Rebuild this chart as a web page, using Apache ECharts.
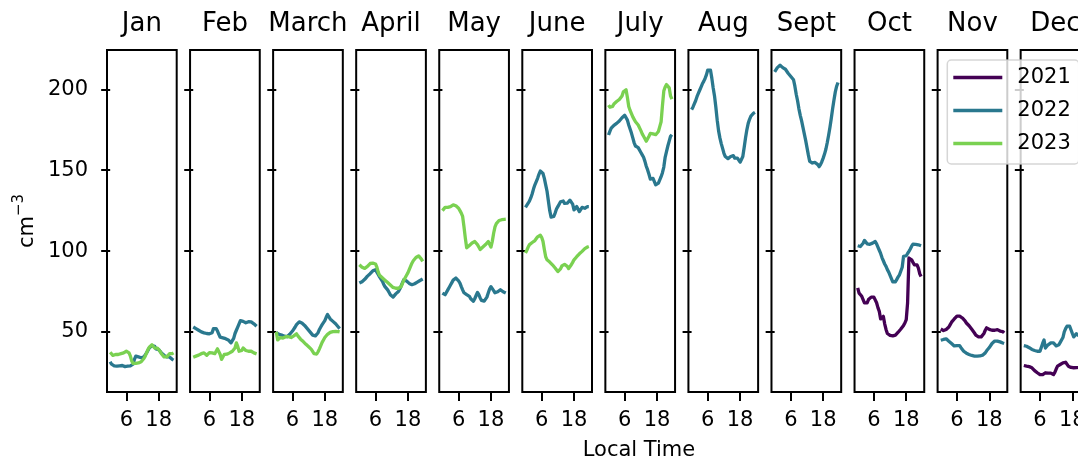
<!DOCTYPE html>
<html>
<head>
<meta charset="utf-8">
<script src="https://cdn.jsdelivr.net/npm/echarts@6.0.0/dist/echarts.min.js"></script>
<style>
  html, body { margin: 0; padding: 0; background: #fff; overflow: hidden; width: 1078px; height: 460px; }
  #chart { width: 1120px; height: 460px; }
</style>
</head>
<body>
<div id="chart"></div>
<script>
// Mean diurnal cycle of number concentration, one panel per month
const months = ['Jan', 'Feb', 'March', 'April', 'May', 'June', 'July', 'Aug', 'Sept', 'Oct', 'Nov', 'Dec'];
const years = ['2021', '2022', '2023'];
const yearColors = ['#440154', '#2a788e', '#7ad151'];
const xTicks = [6, 18];
const yTicks = [50, 100, 150, 200];

// Half-hourly local time
const hours = [0, 0.5, 1, 1.5, 2, 2.5, 3, 3.5, 4, 4.5, 5, 5.5, 6, 6.5, 7, 7.5, 8, 8.5, 9, 9.5,
  10, 10.5, 11, 11.5, 12, 12.5, 13, 13.5, 14, 14.5, 15, 15.5, 16, 16.5, 17, 17.5, 18, 18.5, 19, 19.5,
  20, 20.5, 21, 21.5, 22, 22.5, 23, 23.5];

const jan2022 = [31.5,30,29,29,29,28.8,29,29,29,29.2, 29,28.5,28.5,28.8,29,29,29.5,30,33,35, 34,34.5,34.3,34,35,34.5,35.5,37,38.5,40, 41,41.5,42,41,39.5,40,39,38,37,36, 35.5,35,34.5,34,34.5,33.5,33,32.5];
const jan2023 = [37.4,36.5,35.5,36,36,36.2,36,36.5,36.5,36.3, 37,37.5,38,38,37,35,32,30.5,30.5,30.5, 31,30.8,31,31.5,32,33.5,35,37,39,40.5, 41.5,42,41.5,40,39,40,39,38,36.5,35.5, 34.5,34,34.5,35.5,36.5,37,36.5,37];
const feb2022 = [53,52.5,52,51.5,51,50.5,50,49.5,49.4,49.5, 49,49.2,48.8,48.3,49.5,52,52.8,52,50.5,48.5, 46.7,46.5,46.3,46,45.8,45.5,45,44,43.2,43.5, 46,49,51,53,55,57,57.6,56.5,55.8,55.6, 56,56.3,56,56.2,55.8,55,54.5,53.5];
const feb2023 = [34.3,34.5,35,35.3,35.6,36,36.5,36.8,37,36, 35.5,36.5,37.2,37.7,37,36,36.5,38,39.5,40, 36,33,34,36,36.5,36.2,36.8,37,37.5,38, 38.5,40,43.2,41,38,37,38.5,40,39.5,38.5, 38,38,38.5,38,37.5,37,36.5,36.4];
const mar2022 = [49.5,49,48.5,48,48,47.5,47.3,47.5,47,47.5, 48.5,49.5,50.5,51.5,53,54.5,55.5,56.2,56,55.5, 55,54,53,52,51,50,49,48,47.3,47.5, 48.5,49.5,51.5,53,54.5,55,57,59,60.7,59.5, 58,57.5,56.5,55.5,55,54,53,52];
const mar2023 = [50,45,45.5,46.5,46.7,46.2,46.5,47,47.3,47, 46.7,46.5,47,47.5,48.3,48.8,47.5,46.5,45.5,44.8, 44,43.2,42.3,41.5,40.8,40,39.2,38,36.5,36, 36.3,37.7,39.5,41.5,43.5,45,46.5,47.5,48.5,49.2, 49.7,50,50.2,50.4,50.3,50.4,50.2,50];
const apr2022 = [80.2,80.3,81,82,82.5,83.5,84.5,85.4,86,87, 87.8,88.3,88.5,87,85.5,84,83,81.5,79.5,78, 77,76,74.5,73,72,71.5,72.5,73.5,74.2,75, 76.5,78.5,80.5,82.3,82,81.5,80.5,80,79.5,79.2, 79.3,79.8,80.3,80.8,81.3,81.8,82.3,82.7];
const apr2023 = [91.5,91,90,89.5,89.3,89.5,90.5,91.5,92.3,92.6, 92.5,92.3,92,90,87,85,84.3,83.5,83,82, 81.3,80.5,79.8,79,78.3,77.5,77.2,77,77.2,77, 77.2,78,80,82,83.5,85,86.5,88.5,90.5,92.5, 94,95,96,96.8,97,96.5,95,93.6];
const may2022 = [74,73.5,73,74,76,77.5,79,80.5,82,83, 83.3,83,81.5,80.2,78,76,74.2,73.5,73,72.5, 72,70.5,69.5,69,70.5,72.5,74.4,73,71,69.5, 69,69,69.5,71.5,74,76.5,78,77,75.5,74.2, 74,74.8,75.5,76.1,75.5,74.8,74.3,74];
const may2023 = [125,125.5,127,127.5,127,127.3,127.5,128,128.6,128.3, 128,127.5,126.5,125,123.5,121.4,115,108,102,102.5, 103.5,104.5,105,105.5,105.9,105.5,104,102.5,101,101.5, 102.5,103.5,104,105,105.9,105,102.5,106,111,115, 117,118,118.9,119.2,119.4,119.5,119.6,119.7];
const jun2022 = [127,128,129.6,131,133,135.5,138.5,141,143,145, 147.5,149.5,149.8,148,145,141,137,131,125,121, 120.5,121.4,123.5,126,127.5,129,130.5,131.7,131,129.5, 130,129.6,130.5,131.5,132.1,129,125.5,126,127.5,126.5, 124.4,125.5,127,127.2,126.5,127,127.5,127.5];
const jun2023 = [98.8,100.5,102.5,104,104.8,105.3,105.9,106.5,107.5,108.8, 110,109.8,108.5,106,101,96.5,94.6,94,93.2,92.5, 91.5,90.5,89.5,88.5,87.3,87.5,89,90.8,91.5,91.8, 91.5,90.5,89.2,89.5,91.5,93,94.6,95.5,96.5,97.5, 98.3,98.8,99.8,100.8,101.5,102,102.5,102.8];
const jul2022 = [171.8,174,176,177,177.8,178.5,179,179.5,180.5,181.5, 182.5,183.5,184,183,181,178,175.5,173,170,167, 165,164.3,164,163.5,161,159.5,158,155.5,152.5,150.2, 147.5,144.5,144,145,143,141,140.5,142,144,146, 148.5,152,158,161.5,165,168,171,172];
const jul2023 = [190.3,189,188.3,189.5,191,192,192.5,193.2,193.8,194.4, 196,198.5,199.6,199.8,195,189.5,187,185,183,181.5, 180,179,178,176.9,174.5,172.5,171,169.5,168,169.5, 171,172.8,173,172.5,172.8,172,171.8,174,177,180, 190,199,201.5,203,203.7,201,196,194];
const aug2022 = [187.5,189,191,193,195.5,197.5,199.5,201.5,203.5,205, 206.8,209,212,213,212,207,201,196,189,181, 174.5,170,166.5,163.5,160.5,158.5,157.5,157.2,157.4,158.5, 159.5,159,157.5,157.8,157.5,157,155,155.5,158.5,164, 170,175,179,181.5,183.5,184.5,185.3,185.8];
const sep2022 = [210.9,212,213.5,214.5,215,214,213.5,213,212.5,211.5, 210,209,208,207,206,202,197,193,188,184, 180.5,176.5,172.5,168.5,164,159.5,155.5,154.8,154.5,154.3, 154.8,155,153.5,152.2,153.5,155.3,157.5,160,163,167, 171.5,176.5,182,188,193.5,198.5,202,204.3];
const oct2021 = [77.2,74,73,72,70,68,66.9,68,70,71, 71.5,71.7,71.5,70.5,68,65,62.7,58,57.6,59.6, 55,51.5,49,48.3,47.8,47.7,47.5,47.8,48,49, 49.8,50.8,51.8,52.8,54,55.5,57.6,68,95.7,95, 94.6,93,91.5,92,91.5,89.5,86,84.3];
const oct2022 = [103.3,103,102.8,103.5,104.8,106.6,105.5,104.5,103.9,104.2, 104.5,104.9,105.3,105.9,104.5,102.5,100.5,98.5,96,94, 92,90.5,88.5,87,85,83,81,79.8,81,82.5, 84,85.3,86.5,90,96.7,96,97.1,98.5,99.8,101.3, 103,104.3,104.5,104.2,103.9,103.9,103.5,103.3];
const nov2021 = [51.8,51.2,50.8,51,51.5,52,53,54.5,56,57, 58,59,59.8,60.1,59.8,59.2,58.6,57.8,56.8,55.5, 54.8,53.8,52.7,51.6,50.5,49.3,48,47,46.9,46.8, 46.9,47.2,49,51,52.5,52.3,51.5,51,51,51.3, 51,51.2,51.4,50.8,50.5,50.8,50.2,49.4];
const nov2022 = [44.8,45,45.3,45.6,45.7,45,44.2,43.4,42.8,42, 41.3,40.8,41.5,42.2,41.5,40.2,39,38,37.5,36.8, 36.2,36,35.8,35.4,35.1,35,35,35,35,35.1, 35.3,35.6,36,37,38.3,39.5,40.3,41.5,42.8,43.8, 44.3,44.4,44.3,44.2,43.8,43.5,43.1,42.8];
const dec2021 = [29.2,29,28.8,28.9,28.5,28,27.8,27,26,25.2, 24.7,24.2,23.5,23,23.5,24.2,24.7,24.8,24.5,24.7, 24.5,24,23.6,25,27,28.8,29.3,29.8,30.4,30.8, 31,31.2,30,28.8,28.3,28,27.8,27.8,27.8,27.9, 27.8,28,28.3,28.5,28.8,29,29.2,29.3];
const dec2022 = [41.5,41.3,41.1,40.8,40.2,39.6,39.1,38.8,38.5,38.2, 38,38,38,38.2,43,45,40,40.2,42,43.2, 43.2,43,43.2,42.5,41.3,40.7,42,43.5,44.2,46.5, 50,52,53.5,53.9,53.5,52.5,49,46.9,48,48.9, 47.7,47.5,47.8,47.5,47.2,47,47.3,47];

// Which yearly curves exist in each month panel
const monthSeries = [
  { '2022': jan2022, '2023': jan2023 },
  { '2022': feb2022, '2023': feb2023 },
  { '2022': mar2022, '2023': mar2023 },
  { '2022': apr2022, '2023': apr2023 },
  { '2022': may2022, '2023': may2023 },
  { '2022': jun2022, '2023': jun2023 },
  { '2022': jul2022, '2023': jul2023 },
  { '2022': aug2022 },
  { '2022': sep2022 },
  { '2021': oct2021, '2022': oct2022 },
  { '2021': nov2021, '2022': nov2022 },
  { '2021': dec2021, '2022': dec2022 }
];

const FONT = 'DejaVu Sans';
const PANEL_LEFT = 107, PANEL_STEP = 83.06, PANEL_W = 69.7, PANEL_TOP = 50, PANEL_H = 342;
const X_MIN = -1.175, X_MAX = 24.675, Y_MIN = 12.8, Y_MAX = 224.4;

const grids = [], xAxes = [], yAxes = [], series = [], texts = [];

months.forEach((m, i) => {
  const left = PANEL_LEFT + PANEL_STEP * i;
  grids.push({
    left: left, top: PANEL_TOP, width: PANEL_W, height: PANEL_H,
    show: true, borderColor: '#000', borderWidth: 2, backgroundColor: 'transparent'
  });
  xAxes.push({
    type: 'value', gridIndex: i, min: X_MIN, max: X_MAX,
    axisLine: { show: false }, splitLine: { show: false },
    axisTick: { show: true, length: 9, lineStyle: { color: '#000', width: 2 }, customValues: xTicks },
    axisLabel: { customValues: xTicks, margin: 18, color: '#000', fontSize: 21, fontFamily: FONT }
  });
  yAxes.push({
    type: 'value', gridIndex: i, min: Y_MIN, max: Y_MAX,
    axisLine: { show: false }, splitLine: { show: false },
    axisTick: { show: true, length: 9, lineStyle: { color: '#000', width: 2 }, customValues: yTicks },
    axisLabel: { show: i === 0, customValues: yTicks, margin: 19, color: '#000', fontSize: 21, fontFamily: FONT }
  });
  texts.push({
    type: 'text', x: left + PANEL_W / 2, y: 24.7,
    style: { text: m, align: 'center', verticalAlign: 'middle', fontSize: 26, fontFamily: FONT, fill: '#000' }
  });
  years.forEach((yr, k) => {
    const vals = monthSeries[i][yr];
    if (!vals) return;
    series.push({
      type: 'line', name: yr, xAxisIndex: i, yAxisIndex: i,
      data: hours.map((h, j) => [h, vals[j]]),
      showSymbol: false, symbol: 'none', smooth: false,
      lineStyle: { color: yearColors[k], width: 3.3, cap: 'butt', join: 'round' },
      itemStyle: { color: yearColors[k] },
      emphasis: { disabled: true }
    });
  });
});

texts.push({
  type: 'text', x: 639, y: 450.3,
  style: { text: 'Local Time', align: 'center', verticalAlign: 'middle', fontSize: 21, fontFamily: FONT, fill: '#000' }
});
texts.push({
  type: 'text', x: 25, y: 221, rotation: Math.PI / 2,
  style: {
    text: '{a|cm}{b|\u22123}', align: 'center', verticalAlign: 'middle',
    rich: {
      a: { fontSize: 21, fontFamily: FONT, fill: '#000', color: '#000', verticalAlign: 'bottom', lineHeight: 26 },
      b: { fontSize: 15, fontFamily: FONT, fill: '#000', color: '#000', verticalAlign: 'top', lineHeight: 26 }
    }
  }
});

const chart = echarts.init(document.getElementById('chart'), null, { renderer: 'canvas' });
chart.setOption({
  animation: false,
  backgroundColor: '#fff',
  grid: grids,
  xAxis: xAxes,
  yAxis: yAxes,
  series: series,
  legend: {
    data: years, orient: 'vertical', left: 947.3, top: 60,
    padding: [7, 8, 10, 6], itemWidth: 49, itemHeight: 3.5, itemGap: 12, icon: 'rect',
    backgroundColor: 'rgba(255,255,255,0.8)', borderColor: 'rgba(204,204,204,0.8)',
    borderWidth: 1.5, borderRadius: 4, selectedMode: false, z: 10,
    textStyle: { fontSize: 21, color: '#000', fontFamily: FONT, lineHeight: 20, padding: [0, 0, 0, 10] }
  },
  graphic: texts
});
</script>
</body>
</html>
